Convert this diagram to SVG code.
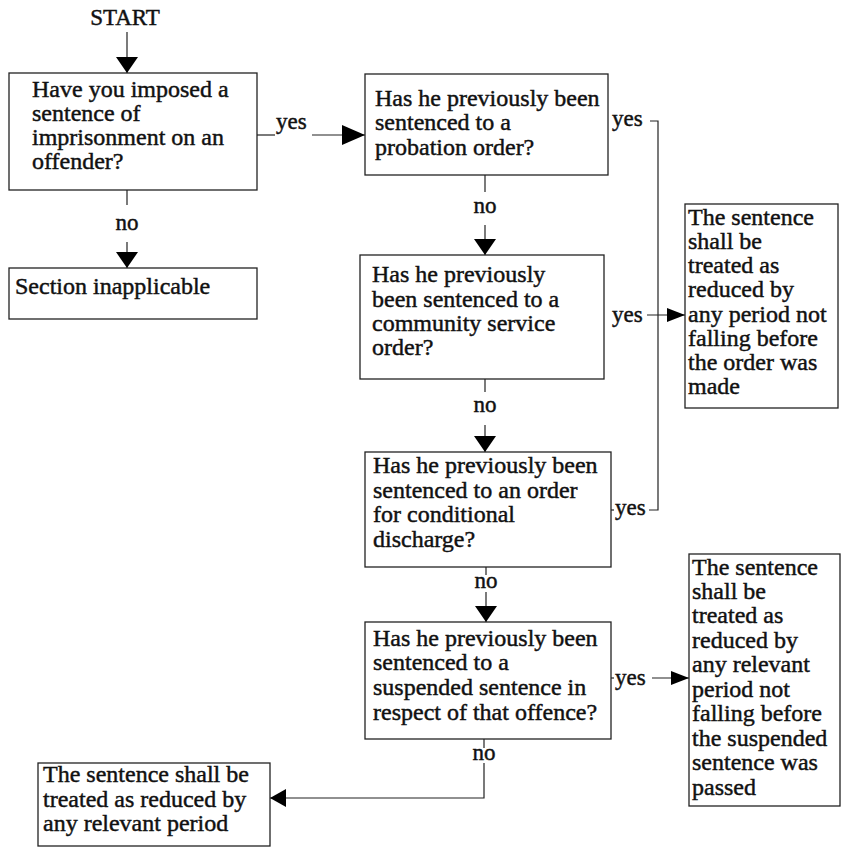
<svg xmlns="http://www.w3.org/2000/svg" width="842" height="847" viewBox="0 0 842 847">
<style>
.box{fill:#fff;stroke:#222;stroke-width:1.3}
.t{font-family:"Liberation Serif","Times New Roman",serif;font-size:24px;fill:#111;stroke:#111;stroke-width:0.45}
.lbl{font-family:"Liberation Serif","Times New Roman",serif;font-size:23px;fill:#111;stroke:#111;stroke-width:0.45}
.c{fill:none;stroke:#222;stroke-width:1.2}
</style>
<defs>
<marker id="big" markerUnits="userSpaceOnUse" viewBox="0 0 16 22" markerWidth="16" markerHeight="22" refX="16" refY="11" orient="auto"><path d="M0,0 L16,11 L0,22 z" fill="#000"/></marker>
<marker id="wide" markerUnits="userSpaceOnUse" viewBox="0 0 23 20" markerWidth="23" markerHeight="20" refX="23" refY="10" orient="auto"><path d="M0,0 L23,10 L0,20 z" fill="#000"/></marker>
<marker id="small" markerUnits="userSpaceOnUse" viewBox="0 0 18 14" markerWidth="18" markerHeight="14" refX="18" refY="7" orient="auto"><path d="M0,0 L18,7 L0,14 z" fill="#000"/></marker>
<marker id="mid" markerUnits="userSpaceOnUse" viewBox="0 0 16 18" markerWidth="16" markerHeight="18" refX="16" refY="9" orient="auto"><path d="M0,0 L16,9 L0,18 z" fill="#000"/></marker>
</defs>

<g id="connectors">
<path class="c" d="M127,32 V73" marker-end="url(#big)"/>
<path class="c" d="M127,190 V205"/>
<path class="c" d="M127,242 V268" marker-end="url(#big)"/>
<path class="c" d="M257,135 H275"/>
<path class="c" d="M312,135 H365" marker-end="url(#wide)"/>
<path class="c" d="M485,175 V192"/>
<path class="c" d="M485,225 V255" marker-end="url(#big)"/>
<path class="c" d="M485,379 V392"/>
<path class="c" d="M485,425 V452" marker-end="url(#big)"/>
<path class="c" d="M486,567 V575"/>
<path class="c" d="M486,592 V622" marker-end="url(#big)"/>
<path class="c" d="M484,739 V748"/>
<path class="c" d="M484,763 V798 H270" marker-end="url(#mid)"/>
<path class="c" d="M650,121 H658 V510 H649"/>
<path class="c" d="M611,510 H614"/>
<path class="c" d="M647,315 H685" marker-end="url(#small)"/>
<path class="c" d="M611,678 H614"/>
<path class="c" d="M652,678 H689" marker-end="url(#small)"/>
<text class="lbl" x="125" y="25" text-anchor="middle">START</text>
<text class="lbl" x="127" y="230" text-anchor="middle">no</text>
<text class="lbl" x="276" y="129">yes</text>
<text class="lbl" x="485" y="213" text-anchor="middle">no</text>
<text class="lbl" x="485" y="412" text-anchor="middle">no</text>
<text class="lbl" x="486" y="588" text-anchor="middle">no</text>
<text class="lbl" x="484" y="760" text-anchor="middle">no</text>
<text class="lbl" x="612" y="126">yes</text>
<text class="lbl" x="612" y="322">yes</text>
<text class="lbl" x="615" y="515">yes</text>
<text class="lbl" x="615" y="685">yes</text>
</g>

<g id="q1">
<rect class="box" x="9" y="73" width="248" height="117"/>
<text class="t" x="32" y="97">Have you imposed a</text>
<text class="t" x="32" y="121">sentence of</text>
<text class="t" x="32" y="145">imprisonment on an</text>
<text class="t" x="32" y="169">offender?</text>
</g>

<g id="inapplicable">
<rect class="box" x="9" y="268" width="248" height="51"/>
<text class="t" x="15" y="294">Section inapplicable</text>
</g>

<g id="q2">
<rect class="box" x="365" y="74" width="243" height="101"/>
<text class="t" x="375" y="106">Has he previously been</text>
<text class="t" x="375" y="130">sentenced to a</text>
<text class="t" x="375" y="155">probation order?</text>
</g>

<g id="q3">
<rect class="box" x="360" y="255" width="244" height="124"/>
<text class="t" x="372" y="282">Has he previously</text>
<text class="t" x="372" y="307">been sentenced to a</text>
<text class="t" x="372" y="331">community service</text>
<text class="t" x="372" y="355">order?</text>
</g>

<g id="q4">
<rect class="box" x="365" y="452" width="246" height="115"/>
<text class="t" x="373" y="473">Has he previously been</text>
<text class="t" x="373" y="498">sentenced to an order</text>
<text class="t" x="373" y="522">for conditional</text>
<text class="t" x="373" y="547">discharge?</text>
</g>

<g id="q5">
<rect class="box" x="365" y="622" width="246" height="117"/>
<text class="t" x="373" y="646">Has he previously been</text>
<text class="t" x="373" y="670">sentenced to a</text>
<text class="t" x="373" y="695">suspended sentence in</text>
<text class="t" x="373" y="720">respect of that offence?</text>
</g>

<g id="resultA">
<rect class="box" x="685" y="204" width="153" height="204"/>
<text class="t" x="688" y="225">The sentence</text>
<text class="t" x="688" y="249">shall be</text>
<text class="t" x="688" y="273">treated as</text>
<text class="t" x="688" y="297">reduced by</text>
<text class="t" x="688" y="322">any period not</text>
<text class="t" x="688" y="346">falling before</text>
<text class="t" x="688" y="370">the order was</text>
<text class="t" x="688" y="394">made</text>
</g>

<g id="resultB">
<rect class="box" x="689" y="554" width="151" height="252"/>
<text class="t" x="692" y="575">The sentence</text>
<text class="t" x="692" y="599">shall be</text>
<text class="t" x="692" y="623">treated as</text>
<text class="t" x="692" y="648">reduced by</text>
<text class="t" x="692" y="672">any relevant</text>
<text class="t" x="692" y="697">period not</text>
<text class="t" x="692" y="721">falling before</text>
<text class="t" x="692" y="746">the suspended</text>
<text class="t" x="692" y="770">sentence was</text>
<text class="t" x="692" y="795">passed</text>
</g>

<g id="resultC">
<rect class="box" x="38" y="763" width="232" height="83"/>
<text class="t" x="43" y="782">The sentence shall be</text>
<text class="t" x="43" y="807">treated as reduced by</text>
<text class="t" x="43" y="831">any relevant period</text>
</g>
</svg>
